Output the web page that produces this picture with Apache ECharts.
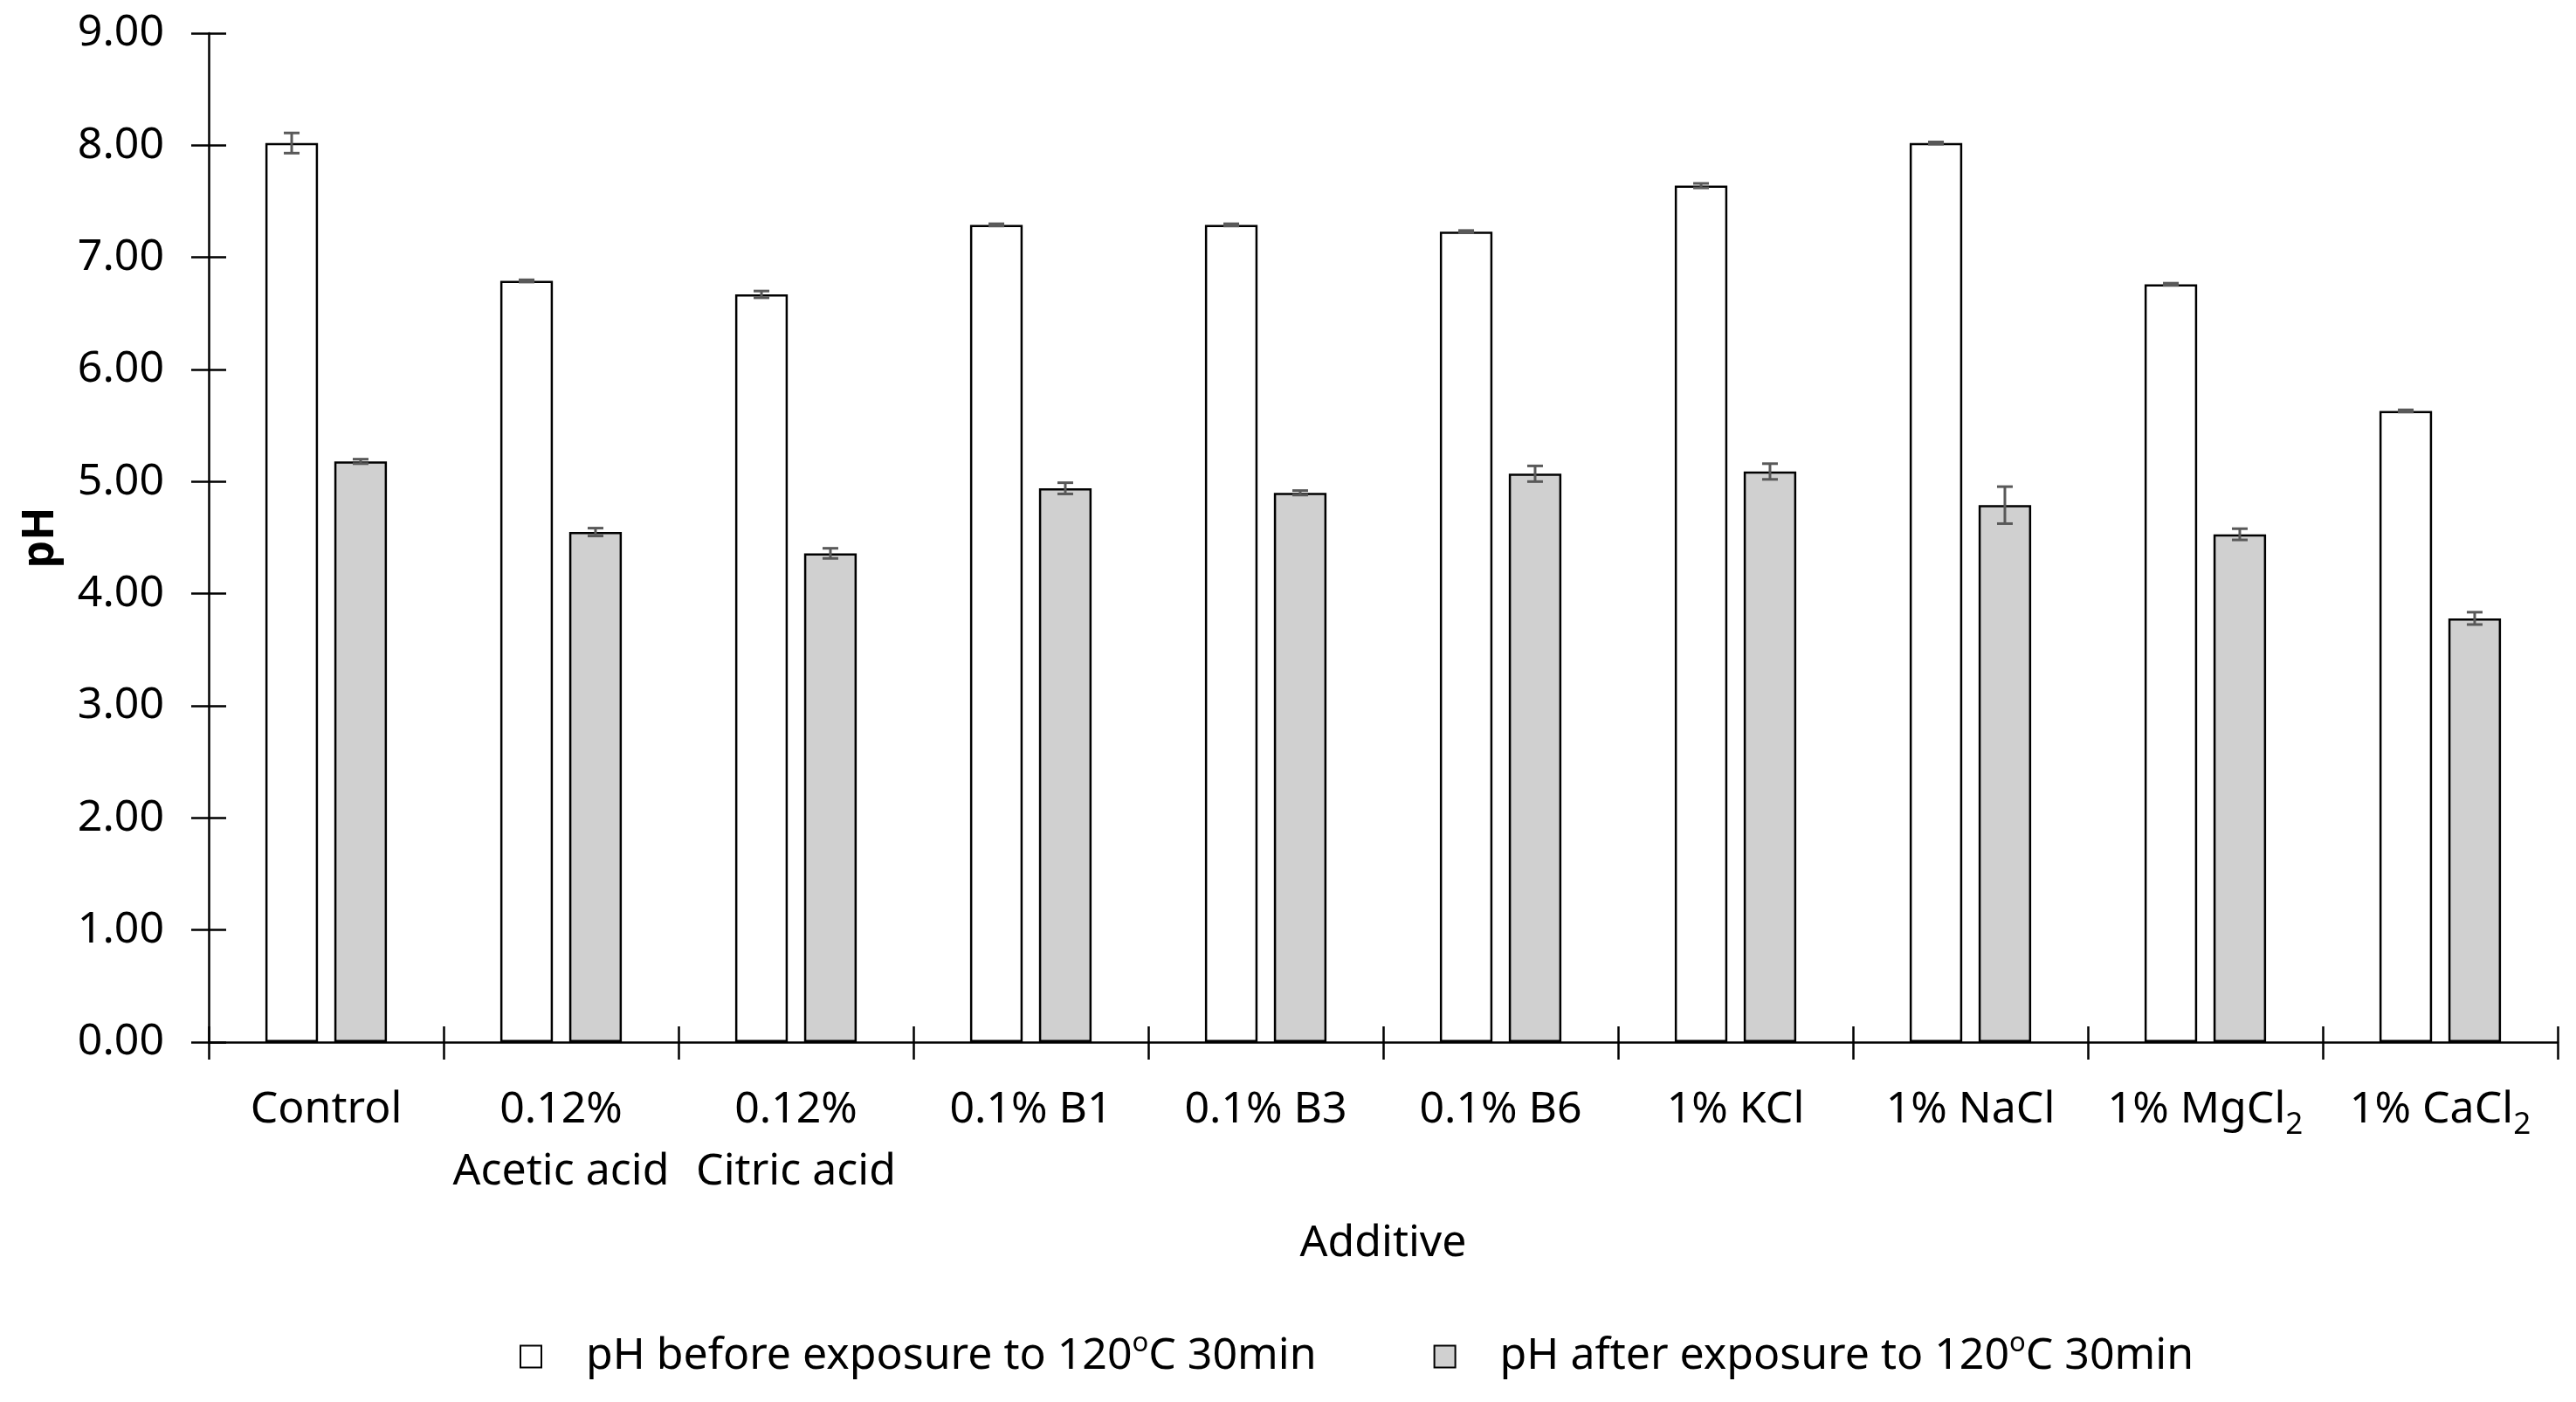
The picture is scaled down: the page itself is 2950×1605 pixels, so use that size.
<!DOCTYPE html>
<html><head><meta charset="utf-8">
<script src="https://cdn.jsdelivr.net/npm/echarts@6/dist/echarts.min.js"></script>
<style>html,body{margin:0;padding:0;background:#fff}#c{width:2950px;height:1605px}</style>
</head><body><div id="c"></div>
<script>
const categories = ['Control', '0.12%\nAcetic acid', '0.12%\nCitric acid', '0.1% B1', '0.1% B3', '0.1% B6', '1% KCl', '1% NaCl', '1% MgCl2', '1% CaCl2'];
const beforeName = 'pH before exposure to 120oC 30min';
const afterName = 'pH after exposure to 120oC 30min';
const beforeValues = [8.02, 6.79, 6.67, 7.29, 7.29, 7.23, 7.64, 8.02, 6.76, 5.63];
const beforeErrors = [0.09, 0.01, 0.03, 0.01, 0.01, 0.01, 0.02, 0.01, 0.01, 0.01];
const afterValues = [5.18, 4.55, 4.36, 4.94, 4.90, 5.07, 5.09, 4.79, 4.53, 3.78];
const afterErrors = [0.02, 0.035, 0.045, 0.05, 0.02, 0.07, 0.07, 0.165, 0.05, 0.055];
const yTicks = [0, 1, 2, 3, 4, 5, 6, 7, 8, 9];

const FONT = 'Noto Sans';
const FS = 50;
const BAR_W = 0.224, BAR_GAP = 0.31;

function errSeries(vals, errs, side) {
  return {
    type: 'custom', name: 'err' + side, silent: true, z: 10,
    data: vals.map((v, i) => [i, v, errs[i]]),
    encode: { x: 0, y: 1 },
    renderItem: function (params, api) {
      const i = api.value(0), v = api.value(1), e = api.value(2);
      const band = api.size([1, 0])[0];
      const bw = band * BAR_W, gap = bw * BAR_GAP;
      const off = side * (bw + gap) / 2;
      const hi = api.coord([i, v + e]), lo = api.coord([i, v - e]);
      const x = hi[0] + off, cap = 9;
      const st = { stroke: '#595959', lineWidth: 3 };
      return { type: 'group', children: [
        { type: 'line', shape: { x1: x, y1: hi[1], x2: x, y2: lo[1] }, style: st },
        { type: 'line', shape: { x1: x - cap, y1: hi[1], x2: x + cap, y2: hi[1] }, style: st },
        { type: 'line', shape: { x1: x - cap, y1: lo[1], x2: x + cap, y2: lo[1] }, style: st }
      ] };
    }
  };
}

const chart = echarts.init(document.getElementById('c'), null, { renderer: 'canvas' });
const axisLine = { show: true, lineStyle: { color: '#000', width: 2.5 } };
chart.setOption({
  backgroundColor: '#fff',
  animation: false,
  textStyle: { fontFamily: FONT, color: '#000' },
  grid: { left: 239, right: 21, top: 38, bottom: 412, containLabel: false },
  legend: {
    data: [beforeName, afterName],
    left: 590, top: 1518,
    itemWidth: 24, itemHeight: 25, itemGap: 134,
    icon: 'rect',
    formatter: n => n.replace('120oC', '120{sup|o}C'),
    textStyle: {
      fontFamily: FONT, fontSize: FS, color: '#000', lineHeight: 60, padding: [0, 0, 0, 46],
      rich: { sup: { fontFamily: FONT, fontSize: 31, lineHeight: 38, verticalAlign: 'top', color: '#000' } }
    }
  },
  xAxis: [{
    type: 'category', data: categories, position: 'bottom',
    axisLine: axisLine,
    axisTick: { show: true, length: 20, lineStyle: { color: '#000', width: 2.5 } },
    axisLabel: {
      fontFamily: FONT, fontSize: FS, color: '#000', lineHeight: 71, margin: 42, interval: 0,
      formatter: v => v.replace(/Cl2$/, 'Cl{sub|2}'),
      rich: { sub: { fontFamily: FONT, fontSize: 35, lineHeight: 38, verticalAlign: 'bottom', color: '#000' } }
    },
    name: 'Additive', nameLocation: 'middle', nameGap: 201,
    nameTextStyle: { fontFamily: FONT, fontSize: FS, color: '#000', lineHeight: 60 }
  }, {
    type: 'category', data: categories, position: 'bottom',
    axisLine: { show: false },
    axisTick: { show: true, inside: true, length: 18, lineStyle: { color: '#000', width: 2.5 } },
    axisLabel: { show: false }
  }],
  yAxis: [{
    type: 'value', min: yTicks[0], max: yTicks[yTicks.length - 1], interval: 1,
    axisLine: axisLine,
    axisTick: { show: true, length: 20, lineStyle: { color: '#000', width: 2.5 } },
    splitLine: { show: false },
    axisLabel: { fontFamily: FONT, fontSize: FS, color: '#000', margin: 51, formatter: v => v.toFixed(2) },
    name: 'pH', nameLocation: 'middle', nameGap: 162,
    nameTextStyle: { fontFamily: FONT, fontSize: FS, fontWeight: 'bold', color: '#000', lineHeight: 60 }
  }, {
    type: 'value', min: yTicks[0], max: yTicks[yTicks.length - 1], interval: 1, position: 'left',
    axisLine: { show: false },
    axisTick: { show: true, inside: true, length: 20, lineStyle: { color: '#000', width: 2.5 } },
    splitLine: { show: false },
    axisLabel: { show: false }
  }],
  series: [
    { name: beforeName, type: 'bar', data: beforeValues, barWidth: (BAR_W * 100) + '%', barGap: (BAR_GAP * 100) + '%',
      itemStyle: { color: '#ffffff', borderColor: '#000', borderWidth: 2.5 } },
    { name: afterName, type: 'bar', data: afterValues, barWidth: (BAR_W * 100) + '%', barGap: (BAR_GAP * 100) + '%',
      itemStyle: { color: '#d0d0d0', borderColor: '#000', borderWidth: 2.5 } },
    errSeries(beforeValues, beforeErrors, -1),
    errSeries(afterValues, afterErrors, 1)
  ]
});
</script></body></html>
